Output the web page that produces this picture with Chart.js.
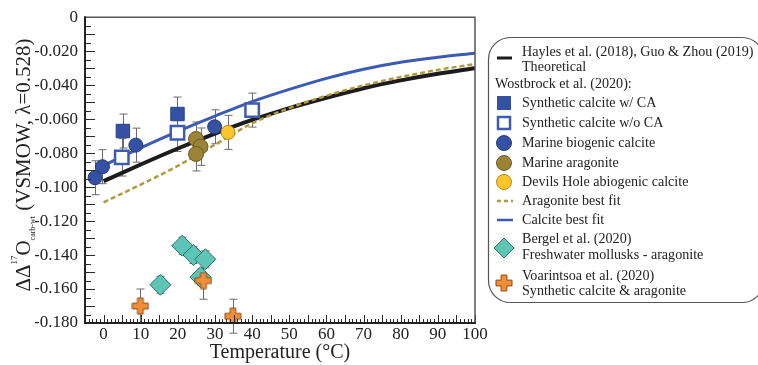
<!DOCTYPE html>
<html>
<head>
<meta charset="utf-8">
<script src="https://cdn.jsdelivr.net/npm/chart.js@4.4.1/dist/chart.umd.min.js"></script>
<style>
  html, body { margin: 0; padding: 0; background: #fff; }
</style>
</head>
<body>
<canvas id="chart" width="758" height="365"></canvas>
<script>
const SERIF = '"Liberation Serif", "DejaVu Serif", serif';

// Axis ticks
const xTickValues = [0, 10, 20, 30, 40, 50, 60, 70, 80, 90, 100];
const yTickValues = [0, -0.02, -0.04, -0.06, -0.08, -0.10, -0.12, -0.14, -0.16, -0.18];

// Theoretical and best-fit curves (temperature in °C)
const curveTemp = [0, 10, 20, 30, 40, 50, 60, 70, 80, 90, 100];
const theoryVal = [-0.0965, -0.0867, -0.0773, -0.0685, -0.0605, -0.0535, -0.0474, -0.0418, -0.0372, -0.0333, -0.0300];
const aragFitVal = [-0.109, -0.0985, -0.0875, -0.0750, -0.0625, -0.0535, -0.0462, -0.0402, -0.0352, -0.0310, -0.0276];
const calcFitTemp = [-1, 0, 10, 20, 30, 40, 50, 60, 70, 80, 90, 100];
const calcFitVal = [-0.0882, -0.0872, -0.0769, -0.0672, -0.0582, -0.0497, -0.0425, -0.0360, -0.0306, -0.0265, -0.0236, -0.0212];

// Wostbrock et al. (2020)
const caWithTemp = [5.2, 19.9];
const caWithVal = [-0.067, -0.057];
const caWithErr = [0.010, 0.010];
const caWithoutTemp = [4.9, 19.9, 40.0];
const caWithoutVal = [-0.0825, -0.068, -0.0547];
const caWithoutErr = [0.011, 0.011, 0.010];
const bioTemp = [-2.3, -0.3, 8.7, 29.9];
const bioVal = [-0.0945, -0.088, -0.0753, -0.0645];
const bioErr = [0.010, 0.010, 0.010, 0.010];
const aragTemp = [24.9, 26.1, 24.9];
const aragVal = [-0.0717, -0.0762, -0.0805];
const aragErr = [0.010, 0.011, 0.010];
const devilsTemp = [33.5];
const devilsVal = [-0.0678];
const devilsErr = [0.010];

// Bergel et al. (2020)
const bergelTemp = [21.2, 24.2, 27.4, 26.1, 15.3];
const bergelVal = [-0.1345, -0.140, -0.1425, -0.153, -0.1575];
const bergelErr = [0.005, 0.005, 0.005, 0.005, 0.005];

// Voarintsoa et al. (2020)
const voarTemp = [9.9, 26.9, 34.8];
const voarVal = [-0.170, -0.155, -0.176];
const voarErr = [0.010, 0.011, 0.010];

const BLUE = '#3451a3';
const BLUE_LINE = '#3d5bb0';
const OLIVE = '#9b8438';
const YELLOW = '#fcc52c';
const TEAL = '#5cc5b6';
const ORANGE = '#f28e35';
const DASH = '#b0993f';

const pts = (xs, ys) => xs.map((v, i) => ({ x: v, y: ys[i] }));

function plusMarker(size, fill, stroke) {
    const c = document.createElement('canvas');
    c.width = c.height = size;
    const g = c.getContext('2d');
    const m = size / 2, arm = size / 2 - 1, w = 2.9;
    g.beginPath();
    g.moveTo(m - w, m - arm); g.lineTo(m + w, m - arm); g.lineTo(m + w, m - w);
    g.lineTo(m + arm, m - w); g.lineTo(m + arm, m + w); g.lineTo(m + w, m + w);
    g.lineTo(m + w, m + arm); g.lineTo(m - w, m + arm); g.lineTo(m - w, m + w);
    g.lineTo(m - arm, m + w); g.lineTo(m - arm, m - w); g.lineTo(m - w, m - w);
    g.closePath();
    g.fillStyle = fill; g.fill();
    g.strokeStyle = stroke; g.lineWidth = 1; g.stroke();
    return c;
}
const plusImg = plusMarker(18, ORANGE, '#8b4f1d');

function scatter(label, xs, ys, errs, style, order) {
    return Object.assign({
        type: 'scatter', label, data: pts(xs, ys), errors: errs, order,
        showLine: false, borderWidth: 1
    }, style);
}

function curve(label, xs, ys, color, width, dash) {
    return {
        type: 'line', label, data: pts(xs, ys), order: 20,
        borderColor: color, borderWidth: width, borderDash: dash || [],
        pointRadius: 0, fill: false, cubicInterpolationMode: 'monotone'
    };
}

// Vertical error bars, drawn under the markers
const errorBars = {
    id: 'errorBars',
    beforeDatasetsDraw(chart) {
        const { ctx, scales: { x, y } } = chart;
        ctx.save();
        ctx.strokeStyle = '#6b6b6b';
        ctx.lineWidth = 1;
        chart.data.datasets.forEach((ds) => {
            if (!ds.errors) return;
            ds.data.forEach((p, i) => {
                const e = ds.errors[i];
                const px = Math.round(x.getPixelForValue(p.x)) + 0.5;
                const top = y.getPixelForValue(p.y + e);
                const bot = y.getPixelForValue(p.y - e);
                ctx.beginPath();
                ctx.moveTo(px, top); ctx.lineTo(px, bot);
                ctx.moveTo(px - 4, top); ctx.lineTo(px + 4, top);
                ctx.moveTo(px - 4, bot); ctx.lineTo(px + 4, bot);
                ctx.stroke();
            });
        });
        ctx.restore();
    }
};

// Box frame plus inward major/minor tick marks
const frameTicks = {
    id: 'frameTicks',
    afterDatasetsDraw(chart) {
        const { ctx, chartArea: a, scales: { x, y } } = chart;
        ctx.save();
        ctx.strokeStyle = '#2a2a2a';
        ctx.lineWidth = 1;
        for (let t = -5; t <= 100; t++) {
            const px = Math.round(x.getPixelForValue(t)) + 0.5;
            const len = t % 5 === 0 ? 8 : 4;
            ctx.beginPath(); ctx.moveTo(px, a.bottom); ctx.lineTo(px, a.bottom - len); ctx.stroke();
        }
        for (let i = 0; i <= 36; i++) {
            const py = Math.round(y.getPixelForValue(-i * 0.005)) + 0.5;
            const len = i % 2 === 0 ? 10 : 6;
            ctx.beginPath(); ctx.moveTo(a.left, py); ctx.lineTo(a.left + len, py); ctx.stroke();
        }
        ctx.strokeStyle = '#555';
        ctx.lineWidth = 1.5;
        ctx.beginPath();
        ctx.moveTo(a.left, a.top); ctx.lineTo(a.right, a.top); ctx.lineTo(a.right, a.bottom);
        ctx.stroke();
        ctx.strokeStyle = '#222';
        ctx.lineWidth = 2;
        ctx.beginPath();
        ctx.moveTo(a.left, a.top - 1); ctx.lineTo(a.left, a.bottom); ctx.lineTo(a.right + 1, a.bottom);
        ctx.stroke();
        ctx.restore();
    }
};

// Rotated y title with superscript / subscript parts
const yTitle = {
    id: 'yTitle',
    afterDraw(chart) {
        const { ctx } = chart;
        const parts = [
            { t: 'ΔΔ', size: 21, dy: 0 },
            { t: '17', size: 9, dy: -13 },
            { t: 'O', size: 21, dy: 0 },
            { t: 'carb-wt', size: 8, dy: 5 },
            { t: ' (VSMOW, λ=0.528)', size: 21, dy: 0 }
        ];
        ctx.save();
        ctx.translate(30, 165);
        ctx.rotate(-Math.PI / 2);
        ctx.fillStyle = '#222';
        ctx.textBaseline = 'alphabetic';
        let total = 0;
        parts.forEach(p => { ctx.font = `${p.size}px ${SERIF}`; p.w = ctx.measureText(p.t).width; total += p.w; });
        let cx = -total / 2;
        parts.forEach(p => {
            ctx.font = `${p.size}px ${SERIF}`;
            ctx.fillText(p.t, cx, p.dy);
            cx += p.w;
        });
        ctx.restore();
    }
};

// Legend panel on the right
const legendRows = [
    { y: 52, text: 'Hayles et al. (2018), Guo & Zhou (2019)' },
    { y: 67, text: 'Theoretical' },
    { y: 84, text: 'Wostbrock et al. (2020):', x: 495 },
    { y: 103, text: 'Synthetic calcite w/ CA' },
    { y: 123, text: 'Synthetic calcite w/o CA' },
    { y: 143, text: 'Marine biogenic calcite' },
    { y: 163, text: 'Marine aragonite' },
    { y: 182, text: 'Devils Hole abiogenic calcite' },
    { y: 201, text: 'Aragonite best fit' },
    { y: 220, text: 'Calcite best fit' },
    { y: 239, text: 'Bergel et al. (2020)' },
    { y: 255, text: 'Freshwater mollusks - aragonite' },
    { y: 276, text: 'Voarintsoa et al. (2020)' },
    { y: 291, text: 'Synthetic calcite & aragonite' }
];

const legendPanel = {
    id: 'legendPanel',
    afterDraw(chart) {
        const { ctx } = chart;
        ctx.save();
        // rounded box, its right side runs past the canvas edge
        const L = 488.5, T = 37.5, R = 764, B = 302.5, r = 22;
        ctx.strokeStyle = '#555';
        ctx.lineWidth = 1.2;
        ctx.beginPath();
        ctx.moveTo(L + r, T); ctx.lineTo(R - r, T); ctx.arcTo(R, T, R, T + r, r);
        ctx.lineTo(R, B - r); ctx.arcTo(R, B, R - r, B, r);
        ctx.lineTo(L + r, B); ctx.arcTo(L, B, L, B - r, r);
        ctx.lineTo(L, T + r); ctx.arcTo(L, T, L + r, T, r);
        ctx.stroke();

        // slightly condensed serif text
        ctx.fillStyle = '#222';
        ctx.font = `15.5px ${SERIF}`;
        ctx.textBaseline = 'middle';
        legendRows.forEach(row => {
            ctx.save();
            ctx.translate(row.x || 522, row.y);
            ctx.scale(0.91, 1);
            ctx.fillText(row.text, 0, 0);
            ctx.restore();
        });

        const mx = 504;
        // theoretical line
        ctx.strokeStyle = '#1c1c1c'; ctx.lineWidth = 3;
        ctx.beginPath(); ctx.moveTo(497, 58); ctx.lineTo(512, 58); ctx.stroke();
        // filled / open squares
        ctx.fillStyle = BLUE; ctx.fillRect(mx - 7, 96, 14, 14);
        ctx.fillStyle = '#fff'; ctx.strokeStyle = BLUE_LINE; ctx.lineWidth = 2.5;
        ctx.fillRect(mx - 6, 117, 12, 12); ctx.strokeRect(mx - 6, 117, 12, 12);
        // circles
        [[143, BLUE, '#24397a'], [163, OLIVE, '#6b5a22'], [182, YELLOW, '#b08a10']].forEach(([cy, f, s]) => {
            ctx.beginPath(); ctx.arc(mx, cy, 7.5, 0, Math.PI * 2);
            ctx.fillStyle = f; ctx.fill(); ctx.strokeStyle = s; ctx.lineWidth = 1; ctx.stroke();
        });
        // fit lines
        ctx.strokeStyle = DASH; ctx.lineWidth = 2.5; ctx.setLineDash([4, 3]);
        ctx.beginPath(); ctx.moveTo(497, 201); ctx.lineTo(513, 201); ctx.stroke();
        ctx.setLineDash([]);
        ctx.strokeStyle = BLUE_LINE; ctx.lineWidth = 2.5;
        ctx.beginPath(); ctx.moveTo(497, 220); ctx.lineTo(513, 220); ctx.stroke();
        // diamond
        ctx.beginPath();
        ctx.moveTo(mx, 238); ctx.lineTo(mx + 10, 248); ctx.lineTo(mx, 258); ctx.lineTo(mx - 10, 248); ctx.closePath();
        ctx.fillStyle = TEAL; ctx.fill(); ctx.strokeStyle = '#2e6e66'; ctx.lineWidth = 1; ctx.stroke();
        // plus
        ctx.drawImage(plusImg, mx - 9, 274);
        ctx.restore();
    }
};

const datasets = [
    scatter('Voarintsoa et al. (2020)', voarTemp, voarVal, voarErr,
        { pointStyle: plusImg, pointRadius: 9 }, 0),
    scatter('Bergel et al. (2020)', bergelTemp, bergelVal, bergelErr,
        { pointStyle: 'rectRot', pointRadius: 10.5, backgroundColor: TEAL, borderColor: '#2e6e66' }, 1),
    scatter('Devils Hole abiogenic calcite', devilsTemp, devilsVal, devilsErr,
        { pointStyle: 'circle', pointRadius: 7, backgroundColor: YELLOW, borderColor: '#b08a10' }, 2),
    scatter('Marine aragonite', aragTemp, aragVal, aragErr,
        { pointStyle: 'circle', pointRadius: 7.5, backgroundColor: OLIVE, borderColor: '#6b5a22' }, 3),
    scatter('Marine biogenic calcite', bioTemp, bioVal, bioErr,
        { pointStyle: 'circle', pointRadius: 7, backgroundColor: BLUE, borderColor: '#24397a' }, 4),
    scatter('Synthetic calcite w/o CA', caWithoutTemp, caWithoutVal, caWithoutErr,
        { pointStyle: 'rect', pointRadius: 9.5, backgroundColor: '#fff', borderColor: BLUE_LINE, borderWidth: 2.5 }, 5),
    scatter('Synthetic calcite w/ CA', caWithTemp, caWithVal, caWithErr,
        { pointStyle: 'rect', pointRadius: 9.5, backgroundColor: BLUE, borderColor: '#2a4088' }, 6),
    curve('Calcite best fit', calcFitTemp, calcFitVal, BLUE_LINE, 3),
    curve('Aragonite best fit', curveTemp, aragFitVal, DASH, 2.5, [5, 3]),
    curve('Theoretical', curveTemp, theoryVal, '#1c1c1c', 4)
];

new Chart(document.getElementById('chart'), {
    data: { datasets },
    options: {
        responsive: false,
        animation: false,
        layout: { padding: { left: 35, right: 283, top: 17, bottom: 0 } },
        plugins: { legend: { display: false }, tooltip: { enabled: false } },
        scales: {
            x: {
                type: 'linear', min: -5, max: 100,
                afterBuildTicks: s => { s.ticks = xTickValues.map(v => ({ value: v })); },
                afterFit: s => { s.height = 42; },
                grid: { display: false, drawTicks: false },
                border: { display: false },
                ticks: { font: { family: SERIF, size: 17 }, color: '#222', padding: 1, maxRotation: 0 },
                title: { display: true, text: 'Temperature (°C)', font: { family: SERIF, size: 20 }, color: '#222', padding: 0 }
            },
            y: {
                type: 'linear', min: -0.18, max: 0,
                afterBuildTicks: s => { s.ticks = yTickValues.map(v => ({ value: v })); },
                afterFit: s => { s.width = 50; },
                grid: { display: false, drawTicks: false },
                border: { display: false },
                ticks: {
                    font: { family: SERIF, size: 17 }, color: '#222', padding: 7,
                    callback: v => (Math.abs(v) < 1e-9 ? '0' : v.toFixed(3))
                }
            }
        }
    },
    plugins: [errorBars, frameTicks, yTitle, legendPanel]
});
</script>
</body>
</html>
